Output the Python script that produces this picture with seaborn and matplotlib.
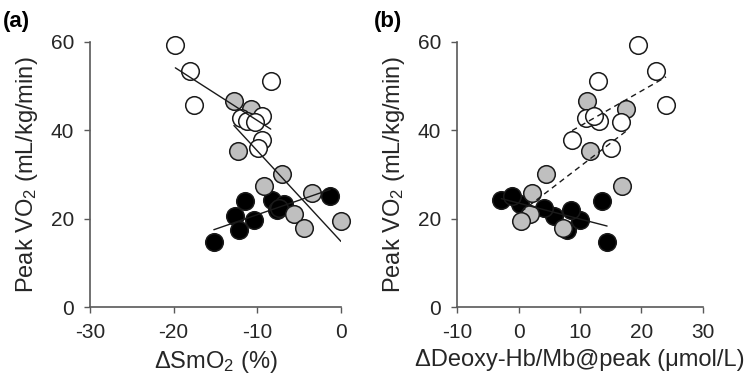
import numpy as np
import pandas as pd
import matplotlib
matplotlib.use("Agg")
import matplotlib.pyplot as plt
import seaborn as sns

# ---------------- data ----------------
white_y = [59.4, 53.5, 45.8, 51.2, 42.8, 42.2, 43.3, 41.8, 37.7, 36.0]
white_smo2 = [-19.8, -18.0, -17.6, -8.4, -11.9, -11.2, -9.4, -10.3, -9.4, -9.9]
white_deoxy = [19.5, 22.4, 24.0, 13.0, 11.0, 13.1, 12.2, 16.6, 8.7, 15.0]

gray_y = [46.6, 44.9, 35.3, 30.0, 27.3, 25.9, 21.0, 17.8, 19.5]
gray_smo2 = [-12.8, -10.8, -12.3, -7.1, -9.2, -3.5, -5.6, -4.4, 0.0]
gray_deoxy = [11.1, 17.5, 11.6, 4.4, 16.9, 2.2, 1.9, 7.2, 0.4]

black_y = [14.7, 23.9, 20.6, 17.5, 19.6, 24.2, 21.9, 23.4, 25.1, 22.5]
black_smo2 = [-15.2, -11.5, -12.7, -12.2, -10.4, -8.2, -7.7, -6.8, -1.3, -7.4]
black_deoxy = [14.4, 13.6, 5.7, 7.9, 10.0, -2.8, 8.5, 0.2, -1.0, 4.2]

groups = ["black", "gray", "white"]
fill_colors = {"black": "#000000", "gray": "#bfbfbf", "white": "#ffffff"}

xticks_a = [-30, -20, -10, 0]
xticks_b = [-10, 0, 10, 20, 30]
yticks = [0, 20, 40, 60]

# ---------------- style ----------------
sns.set_theme(style="white")
plt.rcParams["font.family"] = ["Liberation Sans", "DejaVu Sans"]
plt.rcParams["mathtext.fontset"] = "custom"
plt.rcParams["mathtext.rm"] = "Liberation Sans"
plt.rcParams["mathtext.default"] = "regular"
plt.rcParams["axes.unicode_minus"] = False

spine_col = "#595959"
text_col = "#262626"

fig = plt.figure(figsize=(7.47, 3.81), dpi=100)
ax_a = fig.add_axes([0.1205, 0.194, 0.336, 0.696])
ax_b = fig.add_axes([0.612, 0.194, 0.329, 0.696])

df_a = pd.concat([
    pd.DataFrame({"x": black_smo2, "y": black_y, "g": "black"}),
    pd.DataFrame({"x": gray_smo2, "y": gray_y, "g": "gray"}),
    pd.DataFrame({"x": white_smo2, "y": white_y, "g": "white"}),
], ignore_index=True)
df_b = pd.concat([
    pd.DataFrame({"x": black_deoxy, "y": black_y, "g": "black"}),
    pd.DataFrame({"x": gray_deoxy, "y": gray_y, "g": "gray"}),
    pd.DataFrame({"x": white_deoxy, "y": white_y, "g": "white"}),
], ignore_index=True)

line_styles_a = {"black": "-", "gray": "-", "white": "-"}
line_styles_b = {"black": "-", "gray": (0, (4, 3)), "white": (0, (4, 3))}


def draw(ax, df, styles, xlim, xticks, xlabel, panel):
    for g in groups:
        sub = df[df["g"] == g]
        sns.scatterplot(data=sub, x="x", y="y", ax=ax, s=160,
                        color=fill_colors[g], edgecolor="#1a1a1a",
                        linewidth=1.1, zorder=2, legend=False)
    for g in groups:
        sub = df[df["g"] == g]
        sns.regplot(data=sub, x="x", y="y", ax=ax, scatter=False, ci=None,
                    truncate=True,
                    line_kws={"color": "#1a1a1a", "lw": 1.0,
                              "linestyle": styles[g], "zorder": 3})
    for c in ax.collections:
        c.set_clip_on(False)
    ax.set_xlim(*xlim)
    ax.set_ylim(0, 60)
    ax.set_xticks(xticks)
    ax.set_yticks(yticks)
    ax.set_xlabel(xlabel, fontsize=17, color=text_col, labelpad=5)
    ax.set_ylabel("Peak VO$_2$ (mL/kg/min)", fontsize=17, color=text_col,
                  labelpad=8)
    for s in ["top", "right"]:
        ax.spines[s].set_visible(False)
    for s in ["left", "bottom"]:
        ax.spines[s].set_color(spine_col)
        ax.spines[s].set_linewidth(1.2)
    ax.tick_params(axis="both", direction="out", length=4.5, width=1.0,
                   color=spine_col, labelsize=15, labelcolor=text_col,
                   pad=7, left=True, bottom=True)
    ax.set_facecolor("white")
    ax.grid(False)
    fig.text(panel[1], panel[2], panel[0], fontsize=16, fontweight="bold",
             color="#000000", ha="left", va="top")


draw(ax_a, df_a, line_styles_a, (-30, 0), xticks_a,
     "ΔSmO$_2$ (%)", ("(a)", 0.004, 0.97))
draw(ax_b, df_b, line_styles_b, (-10, 30), xticks_b,
     "ΔDeoxy-Hb/Mb@peak (μmol/L)", ("(b)", 0.500, 0.97))

fig.savefig("out.png", dpi=100, facecolor="white")
